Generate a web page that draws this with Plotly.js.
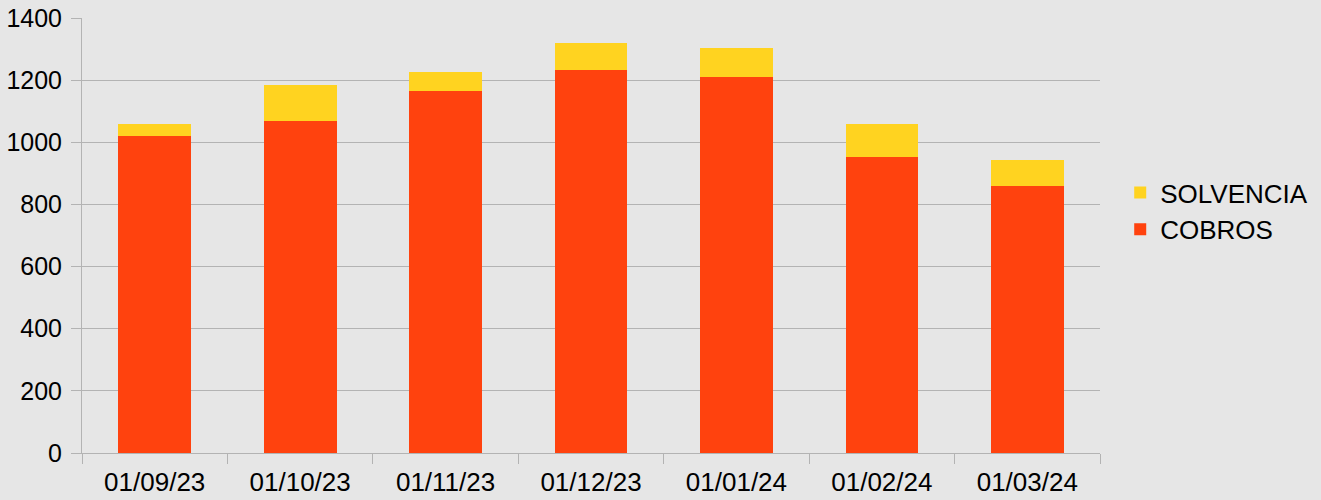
<!DOCTYPE html>
<html>
<head>
<meta charset="utf-8">
<script src="https://cdn.plot.ly/plotly-3.0.1.min.js"></script>
<style>html,body{margin:0;padding:0;background:#e6e6e6;}#chart{width:1321px;height:500px;}</style>
</head>
<body>
<div id="chart"></div>
<script>
const categories = ["01/09/23","01/10/23","01/11/23","01/12/23","01/01/24","01/02/24","01/03/24"];
const cobros = [1020, 1068, 1165, 1232, 1210, 952, 859];
const solvencia = [39, 116, 61, 87, 93, 107, 84];
const yTicks = [0,200,400,600,800,1000,1200,1400];

const traces = [
  {type:'bar', name:'COBROS', x:categories, y:cobros, marker:{color:'#ff420e'}, hoverinfo:'y'},
  {type:'bar', name:'SOLVENCIA', x:categories, y:solvencia, marker:{color:'#ffd320'}, hoverinfo:'y'}
];
const layout = {
  width:1321, height:500,
  margin:{l:82, r:221, t:18, b:47},
  paper_bgcolor:'#e6e6e6', plot_bgcolor:'#e6e6e6',
  barmode:'stack', bargap:0.5,
  font:{family:'"Liberation Sans", Arial, sans-serif', size:26, color:'#000'},
  xaxis:{type:'category', tickson:'boundaries', ticks:'outside', ticklen:10, tickcolor:'#b3b3b3',
         showline:true, linecolor:'#b3b3b3', showgrid:false, tickfont:{size:26},
         ticklabelstandoff:6, automargin:false},
  yaxis:{range:[0,1400], tickvals:yTicks, ticks:'outside', ticklen:10, tickcolor:'#b3b3b3',
         showline:true, linecolor:'#b3b3b3', gridcolor:'#b3b3b3', zeroline:false, tickfont:{size:25},
         ticklabelstandoff:4, automargin:false},
  legend:{xref:'container', yref:'container', x:0.848, y:0.578, xanchor:'left', yanchor:'middle',
          traceorder:'reversed', font:{size:26}, bgcolor:'rgba(0,0,0,0)'},
  showlegend:true
};
Plotly.newPlot('chart', traces, layout, {displayModeBar:false, staticPlot:true});
</script>
</body>
</html>
